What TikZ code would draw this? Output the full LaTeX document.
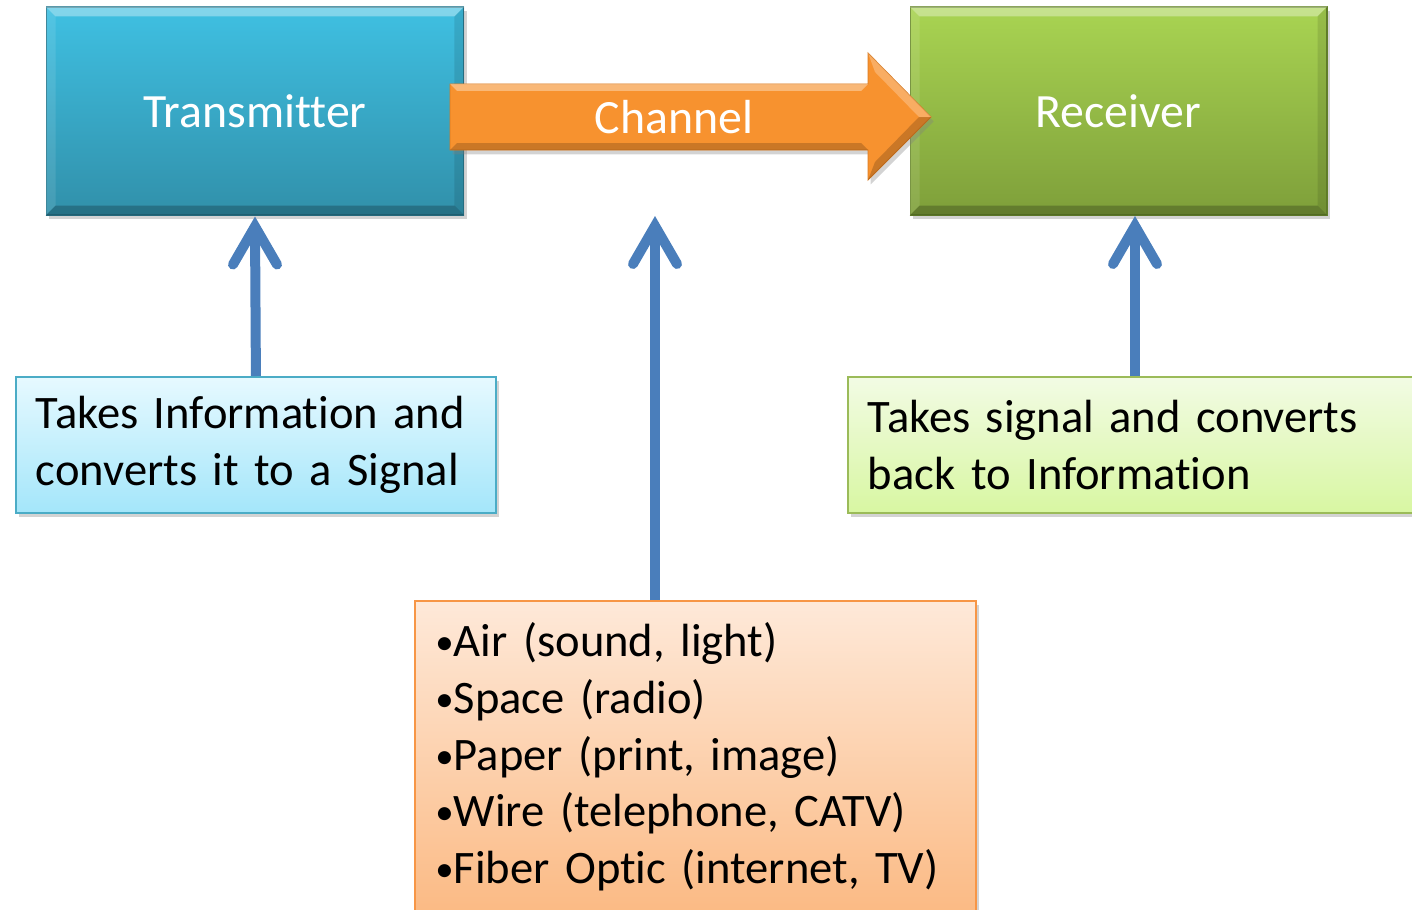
\documentclass[tikz,border=0pt]{standalone}
\usepackage{fontspec}
\setmainfont{Carlito}[Ligatures={NoCommon,NoContextual}]
\usetikzlibrary{calc,shadows}
\definecolor{txtop}{HTML}{3FC0E2}
\definecolor{txbot}{HTML}{3190AA}
\definecolor{txedge}{HTML}{2A7A90}
\definecolor{rxtop}{HTML}{A9D452}
\definecolor{rxbot}{HTML}{7E9F3A}
\definecolor{rxedge}{HTML}{6A8A2E}
\definecolor{chfill}{HTML}{F7922F}
\definecolor{chedge}{HTML}{D97A20}
\definecolor{ltop}{HTML}{E6F9FF}
\definecolor{lbot}{HTML}{A4E6FA}
\definecolor{ledge}{HTML}{4BACC6}
\definecolor{rtop}{HTML}{F2FBE4}
\definecolor{rbot}{HTML}{D8F7A2}
\definecolor{redge}{HTML}{9BBB59}
\definecolor{btop}{HTML}{FEE9D9}
\definecolor{bbot}{HTML}{FBBA84}
\definecolor{bedge}{HTML}{F79646}
\definecolor{conncol}{HTML}{4A7EBB}
\newcommand\mybevel[2]{%
  \fill[white,opacity=.35] (#1.north west) -- (#1.north east) -- ($(#1.north east)+(-#2,#2)$) -- ($(#1.north west)+(#2,#2)$) -- cycle;
  \fill[black,opacity=.22] (#1.south west) -- (#1.south east) -- ($(#1.south east)+(-#2,-#2)$) -- ($(#1.south west)+(#2,-#2)$) -- cycle;
  \fill[black,opacity=.10] (#1.north east) -- (#1.south east) -- ($(#1.south east)+(-#2,-#2)$) -- ($(#1.north east)+(-#2,#2)$) -- cycle;
  \fill[white,opacity=.10] (#1.north west) -- (#1.south west) -- ($(#1.south west)+(#2,-#2)$) -- ($(#1.north west)+(#2,#2)$) -- cycle;
}
\newcommand\bul{{\fontsize{21pt}{21pt}\selectfont\raisebox{0.06em}{•}}}
\tikzset{
  bigfont/.style={font=\fontsize{26.5pt}{32.3pt}\selectfont},
  labfont/.style={font=\fontsize{27.2pt}{32pt}\selectfont},
  shad/.style={drop shadow={opacity=.35,shadow xshift=1.5pt,shadow yshift=-2.5pt}},
  mainbox/.style={rectangle, labfont, text=white, shad, minimum width=8.36cm, minimum height=4.16cm, inner sep=0pt, line width=0.6pt},
  infobox/.style={rectangle, bigfont, text=black, shad, minimum height=2.72cm, align=left, inner xsep=0.4cm, inner ysep=0pt, line width=1.1pt},
  conn/.style={draw=conncol, line width=0.2cm},
  barb/.style={draw=conncol, line width=0.2cm, line cap=round, line join=miter},
}
\begin{document}
\begin{tikzpicture}[x=0.02cm,y=-0.02cm]
\useasboundingbox (0,0) rectangle (1412,909);
% top boxes
\node[mainbox, top color=txtop, bottom color=txbot, draw=txedge] (tx) at (255,111) {Transmitter};
\mybevel{tx}{10}
\node[mainbox, top color=rxtop, bottom color=rxbot, draw=rxedge, minimum width=8.34cm] (rx) at (1118.5,111) {Receiver};
\mybevel{rx}{10}
% channel arrow
\fill[chfill, draw=chedge, line width=0.5pt, shad] (450,84) -- (868,84) -- (868,53) -- (931,117) -- (868,180) -- (868,150) -- (450,150) -- cycle;
\fill[white,opacity=.35] (450,84) -- (868,84) -- (861,91) -- (457,91) -- cycle;
\fill[white,opacity=.25] (868,53) -- (931,117) -- (919,117) -- (875,72) -- cycle;
\fill[black,opacity=.18] (450,150) -- (868,150) -- (861,143) -- (457,143) -- cycle;
\fill[black,opacity=.18] (868,180) -- (931,117) -- (919,117) -- (875,162) -- cycle;
\node[labfont, text=white, anchor=base] (ch) at (674,133) {Channel};
% info boxes
\node[infobox, top color=ltop, bottom color=lbot, draw=ledge, anchor=north west, minimum width=9.6cm, text width=8.8cm] (lt) at (15,376) {Takes Information and\\converts it to a Signal};
\node[infobox, top color=rtop, bottom color=rbot, draw=redge, anchor=north west, minimum width=11.5cm, text width=10.7cm] (rt) at (847,376) {Takes signal and converts\\back to Information};
\node[infobox, top color=btop, bottom color=bbot, draw=bedge, anchor=north west, minimum width=11.22cm, minimum height=6.24cm, text width=10.4cm] (bl) at (414,600) {\bul Air (sound, light)\\\bul Space (radio)\\\bul Paper (print, image)\\\bul Wire (telephone, CATV)\\\bul Fiber Optic (internet, TV)};
% connectors
\coordinate (mtip) at (655,215);
\coordinate (rtip) at (1135,215);
\draw[conn] (lt.north) -- ($(tx.south)+(0,11)$);
\draw[barb] ($(tx.south)+(-22,49)$) -- ($(tx.south)+(0,11)$) -- ($(tx.south)+(22,49)$);
\draw[conn] (bl.north -| mtip) -- ($(mtip)+(0,11)$);
\draw[barb] ($(mtip)+(-22,49)$) -- ($(mtip)+(0,11)$) -- ($(mtip)+(22,49)$);
\draw[conn] (rt.north -| rtip) -- ($(rtip)+(0,11)$);
\draw[barb] ($(rtip)+(-22,49)$) -- ($(rtip)+(0,11)$) -- ($(rtip)+(22,49)$);
\end{tikzpicture}
\end{document}
